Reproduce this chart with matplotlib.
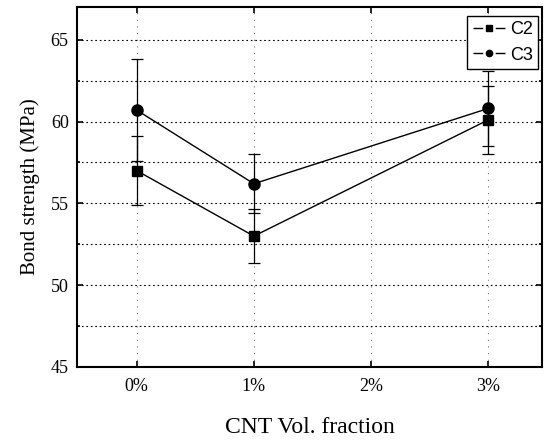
import numpy as np
import matplotlib
matplotlib.use('Agg')
from matplotlib import pyplot as plt
from matplotlib.ticker import MultipleLocator
from matplotlib.lines import Line2D

# data
fractions = ['0%', '1%', '2%', '3%']
x_c2 = [0, 1, 3]
c2_mean = [57.0, 53.0, 60.1]
c2_err = [2.1, 1.65, 2.1]
x_c3 = [0, 1, 3]
c3_mean = [60.7, 56.2, 60.8]
c3_err = [3.1, 1.8, 2.3]

serif = ['Liberation Serif', 'DejaVu Serif']
sans = ['Liberation Sans', 'DejaVu Sans']

fig = plt.figure(figsize=(5.44, 4.43), dpi=100)
ax = fig.add_axes([0.1415, 0.1716, 0.855, 0.8125])

ax.errorbar(x_c2, c2_mean, yerr=c2_err, color='black', lw=1.0, marker='s', ms=7,
            capsize=4, elinewidth=0.9, capthick=0.9, zorder=3)
ax.errorbar(x_c3, c3_mean, yerr=c3_err, color='black', lw=1.0, marker='o', ms=8,
            capsize=4, elinewidth=0.9, capthick=0.9, zorder=3)

ax.set_xlim(-0.51, 3.46)
ax.set_ylim(45, 67)
ax.set_xticks(range(len(fractions)))
ax.set_xticklabels(fractions, fontfamily=serif, fontsize=13)
ax.yaxis.set_major_locator(MultipleLocator(5))
ax.yaxis.set_minor_locator(MultipleLocator(2.5))
for lbl in ax.get_yticklabels():
    lbl.set_fontfamily(serif)
    lbl.set_fontsize(13)

ax.tick_params(which='both', direction='in', top=True, right=True, width=1.2)
ax.tick_params(which='major', length=4)
ax.tick_params(which='minor', length=2)
ax.tick_params(axis='x', pad=8)
ax.tick_params(axis='y', pad=6)

ax.grid(axis='y', which='both', color='black', linestyle=(0, (1.5, 2.5)), lw=0.8)
ax.grid(axis='x', which='major', color='#777777', linestyle=(0, (1, 5)), lw=0.8)
ax.set_axisbelow(True)

for s in ax.spines.values():
    s.set_linewidth(1.5)

ax.set_ylabel('Bond strength (MPa)', fontfamily=serif, fontsize=15, labelpad=8)
ax.set_xlabel('CNT Vol. fraction', fontfamily=serif, fontsize=17, labelpad=16)

# legend handles: short line, gap, marker, gap, short line
handles = [
    Line2D([], [], color='black', lw=1.0, dashes=(7, 9, 7, 100), marker='s', ms=4.5),
    Line2D([], [], color='black', lw=1.0, dashes=(7, 9, 7, 100), marker='o', ms=4.5),
]
leg = ax.legend(handles, ['C2', 'C3'], loc='upper right', bbox_to_anchor=(0.992, 0.975),
                prop={'family': sans, 'size': 13},
                fancybox=False, framealpha=1, edgecolor='black', handlelength=1.78,
                handletextpad=0.3, borderpad=0.3, labelspacing=0.45, borderaxespad=0.0)
leg.get_frame().set_linewidth(1.0)

fig.savefig('out.png', dpi=100)
